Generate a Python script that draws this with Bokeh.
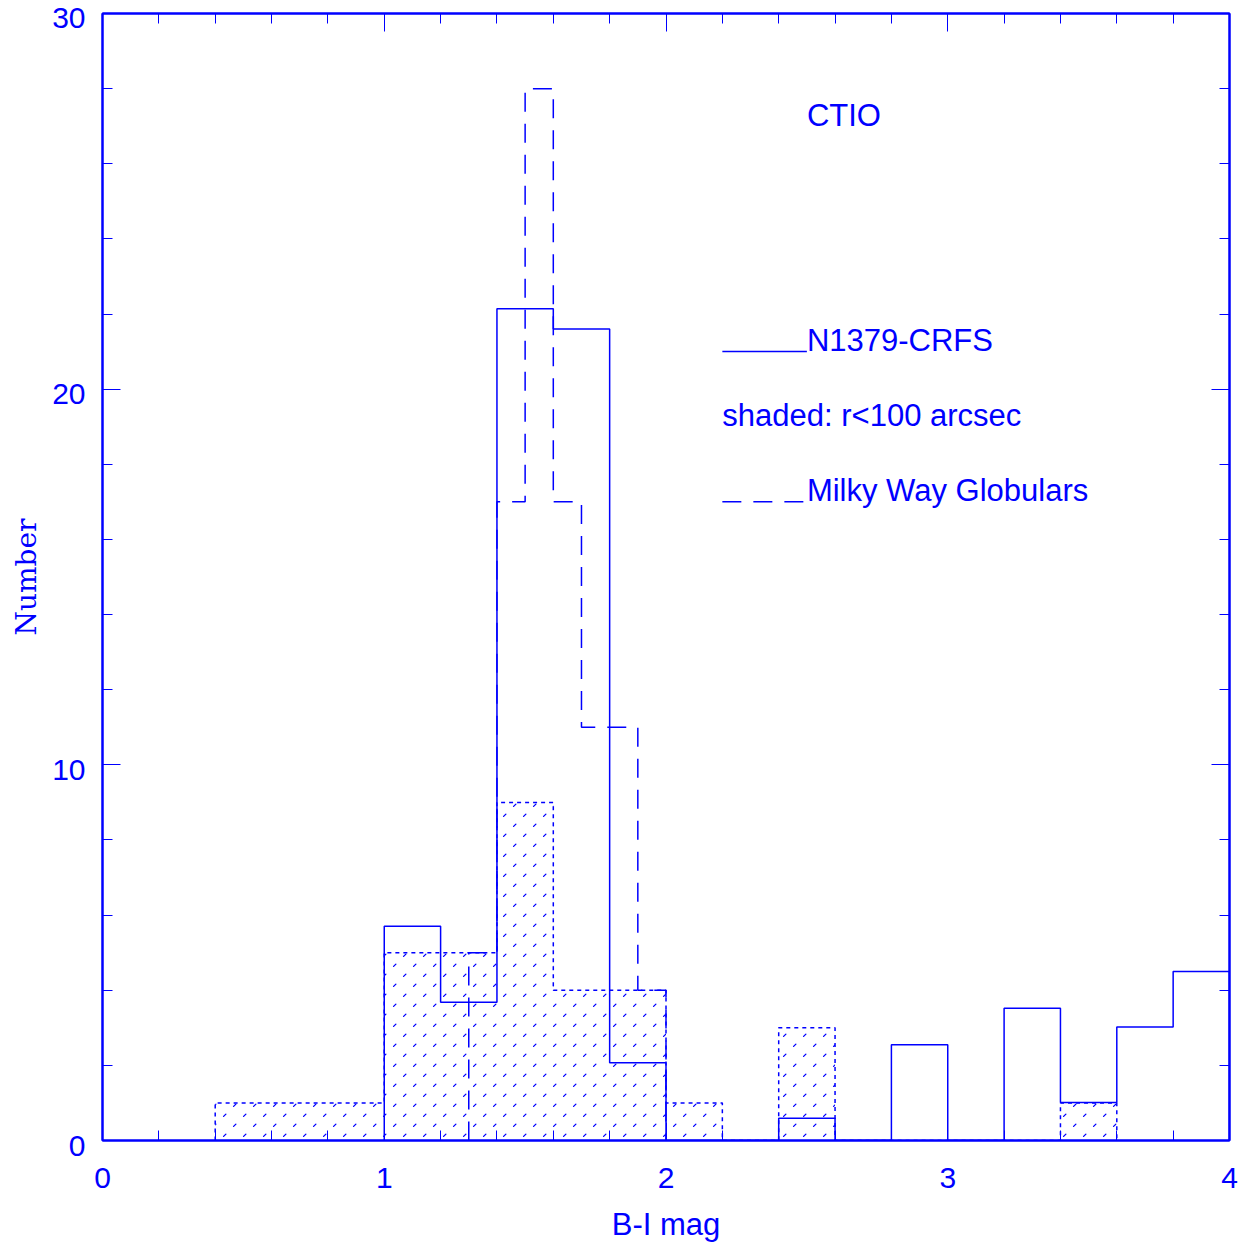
import base64

from bokeh.embed import file_html
from bokeh.models import ImageURLTexture, Label, LinearAxis, Range1d, SingleIntervalTicker
from bokeh.plotting import figure
from bokeh.resources import INLINE

# NGC 1379 candidates (CTIO), background-corrected counts per 0.2 mag bin
ngc_edges = [1.0, 1.2, 1.4, 1.6, 1.8, 2.0, 2.2, 2.4, 2.6, 2.8, 3.0, 3.2, 3.4, 3.6, 3.8, 4.0]
ngc_counts = [5.70, 3.68, 22.14, 21.60, 2.07, 0.0, 0.0, 0.59, 0.0, 2.55, 0.0, 3.52, 1.01, 3.02, 4.50]

# inner sample, r < 100 arcsec (shaded)
inner_edges = [0.4, 0.6, 0.8, 1.0, 1.2, 1.4, 1.6, 1.8, 2.0, 2.2, 2.4, 2.6, 2.8, 3.0, 3.2, 3.4, 3.6]
inner_counts = [1, 1, 1, 5, 5, 9, 4, 4, 1, 0, 3, 0, 0, 0, 0, 1]

# Milky Way globular clusters, 0.1 mag bins
mw_edges = [1.3, 1.4, 1.5, 1.6, 1.7, 1.8, 1.9, 2.0]
mw_counts = [5, 17, 28, 17, 11, 11, 4]

# count-axis labels
y_tick_values = [0, 10, 20, 30]
y_tick_text = ["0", "10", "20", "30"]

BLUE = "#0000ff"
SANS = "Liberation Sans"
TICK_FS = "30px"
TEXT_FS = "31px"


def step_outline(edges, counts):
    """Closed histogram outline: rises from zero at the first edge, falls back at the last."""
    xs, ys = [edges[0]], [0.0]
    for i, c in enumerate(counts):
        xs += [edges[i], edges[i + 1]]
        ys += [c, c]
    xs.append(edges[-1])
    ys.append(0.0)
    return xs, ys


p = figure(
    width=1256,
    height=1247,
    x_range=Range1d(0, 4),
    y_range=Range1d(0, 30),
    output_backend="svg",
    toolbar_location=None,
    min_border_left=102,
    min_border_right=27,
    min_border_top=13,
    min_border_bottom=107,
    x_axis_label="B-I mag",
    y_axis_label="Number",
)
p.xgrid.visible = False
p.ygrid.visible = False
p.outline_line_color = BLUE
p.outline_line_width = 2
p.background_fill_color = "white"
p.border_fill_color = "white"

bottom_axis = p.below[0]
left_axis = p.left[0]

xt = SingleIntervalTicker(interval=1.0, num_minor_ticks=5)
yt = SingleIntervalTicker(interval=10.0, num_minor_ticks=5)
bottom_axis.ticker = xt
left_axis.ticker = yt

top_axis = LinearAxis(ticker=xt)
right_axis = LinearAxis(ticker=yt)
p.add_layout(top_axis, "above")
p.add_layout(right_axis, "right")

for ax in [bottom_axis, left_axis, top_axis, right_axis]:
    ax.axis_line_color = BLUE
    ax.axis_line_width = 2
    ax.major_tick_line_color = BLUE
    ax.minor_tick_line_color = BLUE
    ax.major_tick_line_width = 1
    ax.minor_tick_line_width = 1
    ax.major_tick_in = 18
    ax.major_tick_out = 0
    ax.minor_tick_in = 10
    ax.minor_tick_out = 0
    ax.major_label_text_color = BLUE
    ax.major_label_text_font = SANS
    ax.major_label_text_font_size = TICK_FS

for ax in [top_axis, right_axis]:
    ax.major_label_text_color = None
    ax.major_label_text_font_size = "1px"
    ax.major_label_standoff = 0

bottom_axis.major_label_standoff = 27
bottom_axis.axis_label_text_font = SANS
bottom_axis.axis_label_text_font_size = TEXT_FS
bottom_axis.axis_label_text_font_style = "normal"
bottom_axis.axis_label_text_color = BLUE
bottom_axis.axis_label_standoff = 16

# count labels sit a little below their ticks: a leading empty line with a
# tight line height nudges each label down by a few pixels; the top label is
# already pushed down by being kept inside the canvas, so it stays single-line
left_axis.major_label_standoff = 17
left_axis.major_label_overrides = {
    v: (t if v == max(y_tick_values) else "\n" + t) for v, t in zip(y_tick_values, y_tick_text)
}
left_axis.major_label_text_line_height = 0.29
left_axis.axis_label_text_font = "DejaVu Serif"
left_axis.axis_label_text_font_size = "28px"
left_axis.axis_label_text_font_style = "normal"
left_axis.axis_label_text_color = BLUE
left_axis.axis_label_standoff = 6

# sparse dashed diagonal texture for the shaded sample
tile = (
    "<svg xmlns='http://www.w3.org/2000/svg' width='20' height='20'>"
    "<path d='M3.6 16.4 L5.9 14.1 M13.6 6.4 L15.9 4.1' stroke='#0000ff' "
    "stroke-width='1.3' stroke-linecap='round' fill='none'/></svg>"
)
tile_url = "data:image/svg+xml;base64," + base64.b64encode(tile.encode()).decode()

ix, iy = step_outline(inner_edges, inner_counts)
p.patch(
    ix, iy,
    fill_color=None, line_color=None,
    hatch_pattern="dashes",
    hatch_extra={"dashes": ImageURLTexture(url=tile_url)},
)
p.line(ix, iy, line_color=BLUE, line_width=1.5, line_dash="4 4")

mx, my = step_outline(mw_edges, mw_counts)
p.line(mx, my, line_color=BLUE, line_width=1.5, line_dash="19 12")

nx, ny = step_outline(ngc_edges, ngc_counts)
p.line(nx, ny, line_color=BLUE, line_width=1.5)

# key
p.line([2.2, 2.5], [21, 21], line_color=BLUE, line_width=1.5)
p.line([2.2, 2.5], [17, 17], line_color=BLUE, line_width=1.5, line_dash="19 12")


def note(x, y, txt):
    p.add_layout(Label(x=x, y=y, y_offset=11, text=txt, text_color=BLUE, text_font=SANS,
                       text_font_size=TEXT_FS, text_baseline="alphabetic", text_align="left"))


note(2.5, 27, "CTIO")
note(2.5, 21, "N1379-CRFS")
note(2.2, 19, "shaded: r<100 arcsec")
note(2.5, 17, "Milky Way Globulars")

open("out.html", "w").write(file_html(p, INLINE))
